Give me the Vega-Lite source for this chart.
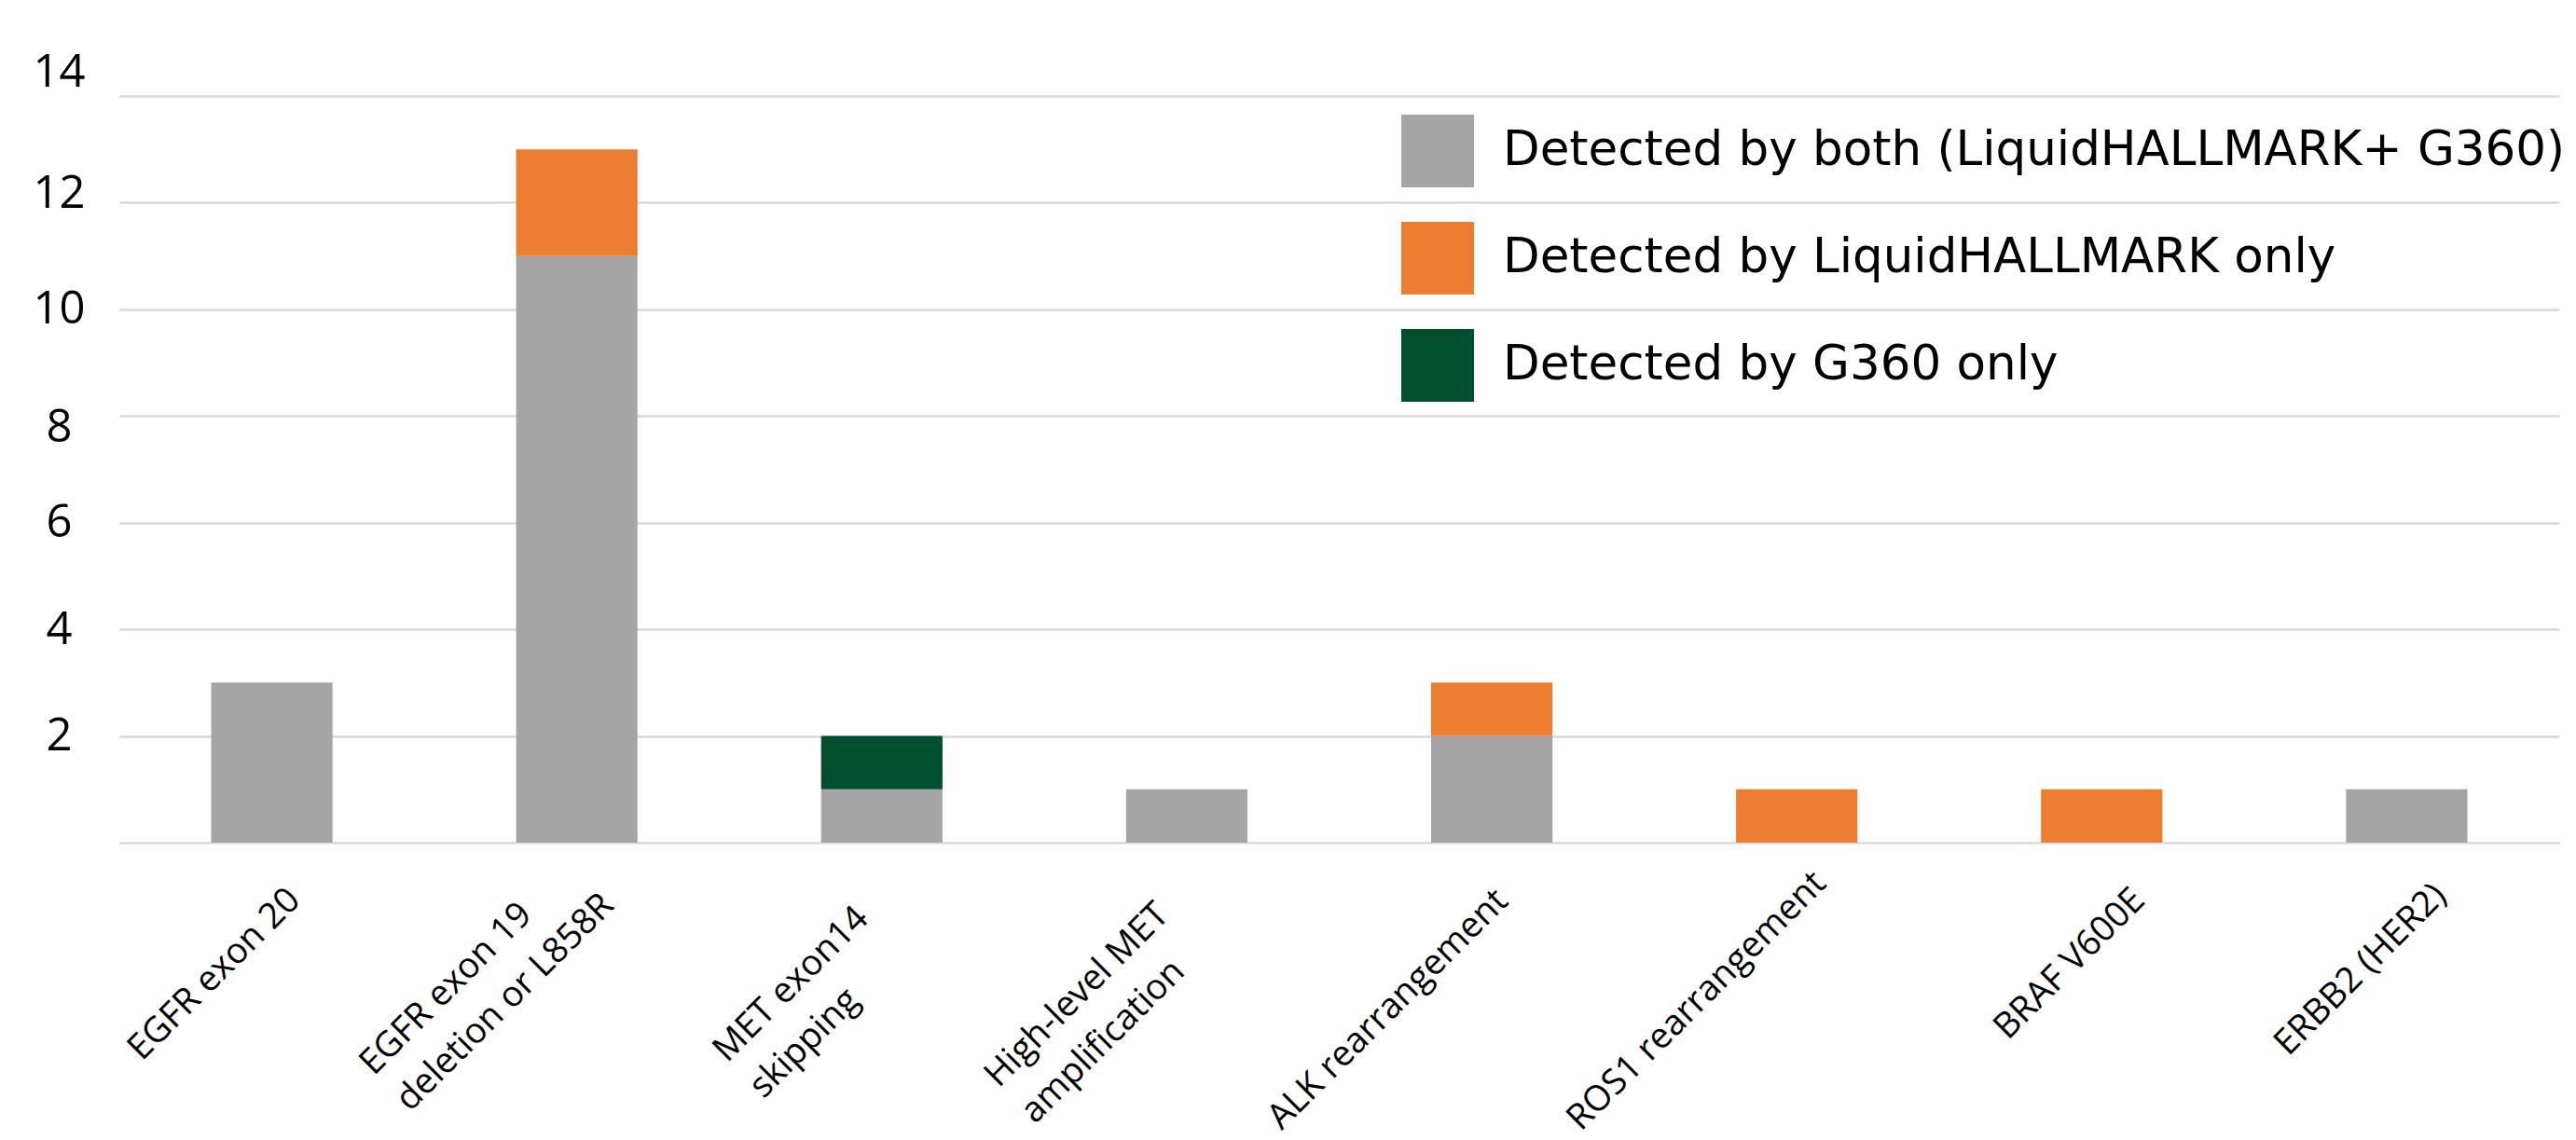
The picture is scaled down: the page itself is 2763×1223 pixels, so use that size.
{
  "$schema": "https://vega.github.io/schema/vega-lite/v6.json",
  "autosize": {"type": "none"},
  "padding": {"left": 128, "top": 103, "right": 18, "bottom": 319},
  "width": 2617,
  "height": 801,
  "background": "white",
  "data": {
    "values": [
      {"alteration": "EGFR exon 20", "detection": "Detected by both (LiquidHALLMARK+ G360)", "count": 3},
      {"alteration": "EGFR exon 19 deletion or L858R", "detection": "Detected by both (LiquidHALLMARK+ G360)", "count": 11},
      {"alteration": "EGFR exon 19 deletion or L858R", "detection": "Detected by LiquidHALLMARK only", "count": 2},
      {"alteration": "MET exon14 skipping", "detection": "Detected by both (LiquidHALLMARK+ G360)", "count": 1},
      {"alteration": "MET exon14 skipping", "detection": "Detected by G360 only", "count": 1},
      {"alteration": "High-level MET amplification", "detection": "Detected by both (LiquidHALLMARK+ G360)", "count": 1},
      {"alteration": "ALK rearrangement", "detection": "Detected by both (LiquidHALLMARK+ G360)", "count": 2},
      {"alteration": "ALK rearrangement", "detection": "Detected by LiquidHALLMARK only", "count": 1},
      {"alteration": "ROS1 rearrangement", "detection": "Detected by LiquidHALLMARK only", "count": 1},
      {"alteration": "BRAF V600E", "detection": "Detected by LiquidHALLMARK only", "count": 1},
      {"alteration": "ERBB2 (HER2)", "detection": "Detected by both (LiquidHALLMARK+ G360)", "count": 1}
    ]
  },
  "mark": {"type": "bar"},
  "encoding": {
    "x": {
      "field": "alteration",
      "type": "nominal",
      "sort": null,
      "scale": {"paddingInner": 0.602, "paddingOuter": 0.301},
      "axis": {
        "title": null,
        "domain": false,
        "ticks": false,
        "tickSize": 0,
        "grid": false,
        "labelAngle": -45,
        "labelBaseline": "top",
        "labelFont": "Open Sans",
        "labelFontSize": 38,
        "labelColor": "#000000",
        "labelLineHeight": 55,
        "labelLimit": 2000,
        "labelOverlap": false,
        "labelExpr": "datum.value == 'EGFR exon 19 deletion or L858R' ? ['EGFR exon 19', 'deletion or L858R'] : datum.value == 'MET exon14 skipping' ? ['MET exon14', 'skipping'] : datum.value == 'High-level MET amplification' ? ['High-level MET', 'amplification'] : datum.label",
        "labelAlign": {
          "condition": {"test": "indexof(['EGFR exon 19 deletion or L858R', 'MET exon14 skipping', 'High-level MET amplification'], datum.value) >= 0", "value": "left"},
          "value": "right"
        },
        "labelOffset": {
          "condition": [
            {"test": "datum.value == 'EGFR exon 20'", "value": 11},
            {"test": "datum.value == 'EGFR exon 19 deletion or L858R'", "value": -239},
            {"test": "datum.value == 'MET exon14 skipping'", "value": -187},
            {"test": "datum.value == 'High-level MET amplification'", "value": -223},
            {"test": "datum.value == 'ALK rearrangement'", "value": -2},
            {"test": "datum.value == 'ROS1 rearrangement'", "value": 12},
            {"test": "datum.value == 'BRAF V600E'", "value": 27}
          ],
          "value": 23
        },
        "labelPadding": {
          "condition": [
            {"test": "datum.value == 'EGFR exon 20'", "value": 42},
            {"test": "datum.value == 'EGFR exon 19 deletion or L858R'", "value": 229},
            {"test": "datum.value == 'MET exon14 skipping'", "value": 215},
            {"test": "datum.value == 'High-level MET amplification'", "value": 242},
            {"test": "datum.value == 'ALK rearrangement'", "value": 43},
            {"test": "datum.value == 'ROS1 rearrangement'", "value": 24},
            {"test": "datum.value == 'BRAF V600E'", "value": 42}
          ],
          "value": 37
        }
      }
    },
    "y": {
      "field": "count",
      "type": "quantitative",
      "aggregate": "sum",
      "stack": "zero",
      "scale": {"domain": [0, 14], "nice": false, "zero": true},
      "axis": {
        "title": null,
        "values": [0, 2, 4, 6, 8, 10, 12, 14],
        "domain": false,
        "ticks": false,
        "tickSize": 0,
        "grid": true,
        "gridColor": "#D9D9D9",
        "gridWidth": 2.5,
        "labelFont": "Open Sans",
        "labelFontSize": 49,
        "labelColor": "#000000",
        "labelAlign": "center",
        "labelBaseline": "middle",
        "labelPadding": 65,
        "labelExpr": "datum.value == 0 ? '' : datum.label",
        "labelOffset": {
          "condition": [
            {"test": "datum.value == 14", "value": -26},
            {"test": "datum.value == 12", "value": -10},
            {"test": "datum.value == 8", "value": 12}
          ],
          "value": 0
        }
      }
    },
    "color": {
      "field": "detection",
      "type": "nominal",
      "scale": {
        "domain": ["Detected by both (LiquidHALLMARK+ G360)", "Detected by LiquidHALLMARK only", "Detected by G360 only"],
        "range": ["#A5A5A5", "#ED7D31", "#00502F"]
      },
      "legend": {
        "orient": "none",
        "legendX": 1375,
        "legendY": 20,
        "title": null,
        "padding": 0,
        "symbolType": "square",
        "symbolSize": 6084,
        "symbolStrokeWidth": 0,
        "symbolOpacity": 1,
        "labelFont": "DejaVu Sans",
        "labelFontSize": 51.5,
        "labelColor": "#000000",
        "labelOffset": 31,
        "labelLimit": 2000,
        "rowPadding": 37
      }
    },
    "order": {"field": "detection", "sort": "descending"}
  },
  "config": {
    "view": {"stroke": null}
  }
}
